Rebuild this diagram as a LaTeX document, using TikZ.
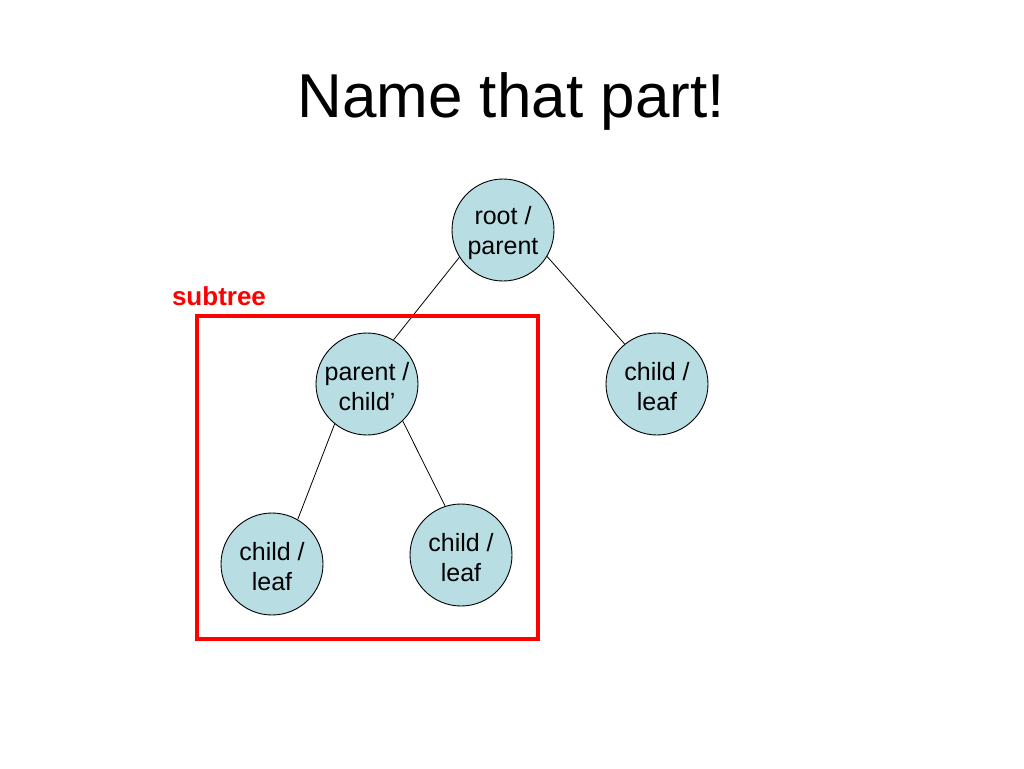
\documentclass[tikz,border=0pt]{standalone}
\usepackage{fontspec}
\setmainfont{Liberation Sans}
\definecolor{nodefill}{RGB}{184,222,228}
\definecolor{boxred}{RGB}{255,0,0}
\begin{document}
\begin{tikzpicture}[x=1pt,y=-1pt,
  treenode/.style={circle,draw=black,line width=0.9pt,fill=nodefill,minimum size=102pt,inner sep=0pt,align=center,font=\fontsize{25}{30}\selectfont},
  nodetext/.style={align=center,inner sep=0pt,font=\fontsize{25}{30}\selectfont},
  edge/.style={draw=black,line width=0.8pt}]
\useasboundingbox[fill=white] (0,0) rectangle (1024,768);
\node[font=\fontsize{62}{70}\selectfont] (title) at (511,101) {Name that part!};
\node[treenode] (root) at (503,230) {};
\node[treenode] (pc) at (367,384) {};
\node[treenode] (rc) at (657,384) {};
\node[treenode] (ll) at (272,564) {};
\node[treenode] (rl) at (461,555) {};
\node[nodetext] (roott) at (503,233) {root /\\parent};
\node[nodetext] (pct) at (367,387) {parent /\\child’};
\node[nodetext] (rct) at (657,387) {child /\\leaf};
\node[nodetext] (llt) at (272,567) {child /\\leaf};
\node[nodetext] (rlt) at (461,558) {child /\\leaf};
\draw[edge] (root.212) -- (pc.59);
\draw[edge] (root.329) -- (rc.129);
\draw[edge] (pc.231) -- (ll.60);
\draw[edge] (pc.314) -- (rl.108);
\node[draw=boxred,line width=4pt,minimum width=341pt,minimum height=323pt,inner sep=0pt] (box) at (367.5,477.5) {};
\node[text=boxred,font=\bfseries\fontsize{26}{30}\selectfont] (lbl) at (219,296) {subtree};
\end{tikzpicture}
\end{document}
